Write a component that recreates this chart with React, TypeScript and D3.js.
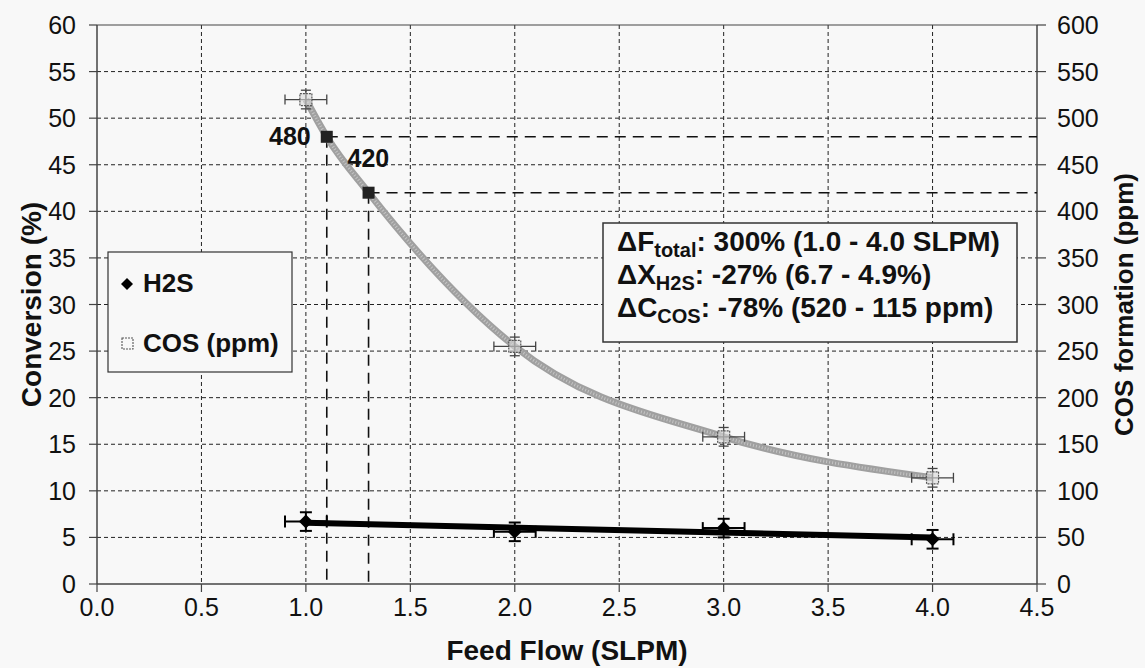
import React from 'react';
import * as d3 from 'd3';

const feedFlow = [1.0, 2.0, 3.0, 4.0];
const flowError = [0.1, 0.1, 0.1, 0.1];
const h2sConversion = [6.7, 5.6, 6.0, 4.8];
const h2sError = [1.0, 1.0, 1.0, 1.0];
const cosPpm = [520, 255, 158, 114];
const cosError = [10, 10, 10, 10];
const markFlow = [1.1, 1.3];
const markCos = [480, 420];
const markLabels = ['480', '420'];
const xTicks = [0, 0.5, 1, 1.5, 2, 2.5, 3, 3.5, 4, 4.5];
const yLeftTicks = [0, 5, 10, 15, 20, 25, 30, 35, 40, 45, 50, 55, 60];
const yRightTicks = [0, 50, 100, 150, 200, 250, 300, 350, 400, 450, 500, 550, 600];
const legendItems = ['H2S', 'COS (ppm)'];

const L = 97, R = 1037, T = 25, B = 584;
const FONT = 'Liberation Sans, Arial, sans-serif';

export default function App() {
  const x = d3.scaleLinear().domain([0, 4.5]).range([L, R]);
  const yL = d3.scaleLinear().domain([0, 60]).range([B, T]);
  const yR = d3.scaleLinear().domain([0, 600]).range([B, T]);

  // H2S linear trend
  const mx = d3.mean(feedFlow)!;
  const my = d3.mean(h2sConversion)!;
  const sxy = d3.sum(feedFlow.map((f, i) => (f - mx) * (h2sConversion[i] - my)));
  const sxx = d3.sum(feedFlow.map((f) => (f - mx) ** 2));
  const slope = sxy / sxx;
  const icpt = my - slope * mx;
  const x0 = feedFlow[0], x1 = feedFlow[feedFlow.length - 1];

  const cosCurvePts: [number, number][] = [
    ...feedFlow.map((f, i) => [f, cosPpm[i]] as [number, number]),
    ...markFlow.map((f, i) => [f, markCos[i]] as [number, number]),
  ].sort((a, b) => a[0] - b[0]);
  const cosLine = d3
    .line<[number, number]>()
    .x((d) => x(d[0]))
    .y((d) => yR(d[1]))
    .curve(d3.curveMonotoneX);

  const gridDash = '4,3';
  const diamond = (cx: number, cy: number, r: number) =>
    `M${cx},${cy - r}L${cx + r},${cy}L${cx},${cy + r}L${cx - r},${cy}Z`;

  return (
    <svg width={1145} height={668} style={{ position: 'absolute', left: 0, top: 0, background: '#f8f8f8' }} fontFamily={FONT}>
      <rect x={0} y={0} width={1145} height={668} fill="#f8f8f8" />
      {/* gridlines */}
      {yLeftTicks.filter((v) => v > 0 && v < 60).map((v) => (
        <line key={'gy' + v} x1={L} x2={R} y1={yL(v)} y2={yL(v)} stroke="#222" strokeWidth={1} strokeDasharray={gridDash} />
      ))}
      {xTicks.filter((v) => v > 0 && v < 4.5).map((v) => (
        <line key={'gx' + v} x1={x(v)} x2={x(v)} y1={T} y2={B} stroke="#222" strokeWidth={1} strokeDasharray={gridDash} />
      ))}
      {/* frame */}
      <line x1={L} x2={R} y1={T} y2={T} stroke="#444" strokeWidth={1.2} />
      <line x1={L} x2={L} y1={T} y2={B} stroke="#444" strokeWidth={1.5} />
      <line x1={R} x2={R} y1={T} y2={B} stroke="#444" strokeWidth={1.5} />
      <line x1={L} x2={R} y1={B} y2={B} stroke="#444" strokeWidth={1.5} />
      {/* left ticks */}
      {yLeftTicks.map((v) => (
        <g key={'yl' + v}>
          <line x1={L - 8} x2={L} y1={yL(v)} y2={yL(v)} stroke="#444" strokeWidth={1.2} />
          <text x={76} y={yL(v)} dy="0.36em" textAnchor="end" fontSize={25} fill="#111">{v}</text>
        </g>
      ))}
      {yRightTicks.map((v) => (
        <g key={'yr' + v}>
          <line x1={R} x2={R + 9} y1={yR(v)} y2={yR(v)} stroke="#444" strokeWidth={1.2} />
          <text x={1057} y={yR(v)} dy="0.36em" textAnchor="start" fontSize={25} fill="#111">{v}</text>
        </g>
      ))}
      {xTicks.map((v) => (
        <g key={'xt' + v}>
          <line x1={x(v)} x2={x(v)} y1={B} y2={B + 8} stroke="#444" strokeWidth={1.2} />
          <text x={x(v)} y={B + 32} textAnchor="middle" fontSize={25} fill="#111">{d3.format('.1f')(v)}</text>
        </g>
      ))}
      {/* axis titles */}
      <text x={567} y={660} textAnchor="middle" fontSize={28} fontWeight="bold" fill="#111">Feed Flow (SLPM)</text>
      <text transform={`translate(41,${(T + B) / 2}) rotate(-90)`} textAnchor="middle" fontSize={28} fontWeight="bold" fill="#111">Conversion (%)</text>
      <text transform={`translate(1133,${(T + B) / 2}) rotate(-90)`} textAnchor="middle" fontSize={26} fontWeight="bold" fill="#111">COS formation (ppm)</text>

      {/* dashed reference lines */}
      {markFlow.map((f, i) => (
        <g key={'ref' + i}>
          <line x1={x(f)} x2={x(f)} y1={yR(markCos[i])} y2={B} stroke="#111" strokeWidth={1.6} strokeDasharray="11,7" />
          <line x1={x(f)} x2={R} y1={yR(markCos[i])} y2={yR(markCos[i])} stroke="#111" strokeWidth={1.6} strokeDasharray="11,7" />
        </g>
      ))}

      {/* COS curve */}
      <path d={cosLine(cosCurvePts)!} fill="none" stroke="#a0a0a0" strokeWidth={7} />
      <path d={cosLine(cosCurvePts)!} fill="none" stroke="#c4c4c4" strokeWidth={3} strokeDasharray="1,2" />

      {/* mark squares */}
      {markFlow.map((f, i) => (
        <rect key={'ms' + i} x={x(f) - 6} y={yR(markCos[i]) - 6} width={12} height={12} fill="#222" />
      ))}
      {markFlow.map((f, i) => (
        <text key={'ml' + i} x={i === 0 ? x(f) - 16 : x(f) - 21} y={i === 0 ? yR(markCos[i]) + 8 : yR(markCos[i]) - 26}
          textAnchor={i === 0 ? 'end' : 'start'} fontSize={25} fontWeight="bold" fill="#111">{markLabels[i]}</text>
      ))}

      {/* COS error bars & markers */}
      {feedFlow.map((f, i) => {
        const cx = x(f), cy = yR(cosPpm[i]);
        const xl = x(f - flowError[i]), xr = x(f + flowError[i]);
        const yt = yR(cosPpm[i] + cosError[i]), yb = yR(cosPpm[i] - cosError[i]);
        return (
          <g key={'ce' + i} stroke="#444" strokeWidth={1.3}>
            <line x1={xl} x2={xr} y1={cy} y2={cy} />
            <line x1={xl} x2={xl} y1={cy - 5} y2={cy + 5} />
            <line x1={xr} x2={xr} y1={cy - 5} y2={cy + 5} />
            <line x1={cx} x2={cx} y1={yt} y2={yb} />
            <line x1={cx - 5} x2={cx + 5} y1={yt} y2={yt} />
            <line x1={cx - 5} x2={cx + 5} y1={yb} y2={yb} />
            <rect x={cx - 6} y={cy - 6} width={12} height={12} fill="#d8d8d8" fillOpacity={0.6} stroke="#555" strokeWidth={1.2} strokeDasharray="2,1" />
          </g>
        );
      })}

      {/* H2S trend line */}
      <line x1={x(x0)} x2={x(x1)} y1={yL(icpt + slope * x0)} y2={yL(icpt + slope * x1)} stroke="#000" strokeWidth={6} />
      {feedFlow.map((f, i) => {
        const cx = x(f), cy = yL(h2sConversion[i]);
        const xl = x(f - flowError[i]), xr = x(f + flowError[i]);
        const yt = yL(h2sConversion[i] + h2sError[i]), yb = yL(h2sConversion[i] - h2sError[i]);
        return (
          <g key={'he' + i} stroke="#000" strokeWidth={2}>
            <line x1={xl} x2={xr} y1={cy} y2={cy} />
            <line x1={xl} x2={xl} y1={cy - 6} y2={cy + 6} />
            <line x1={xr} x2={xr} y1={cy - 6} y2={cy + 6} />
            <line x1={cx} x2={cx} y1={yt} y2={yb} />
            <line x1={cx - 6} x2={cx + 6} y1={yt} y2={yt} />
            <line x1={cx - 6} x2={cx + 6} y1={yb} y2={yb} />
            <path d={diamond(cx, cy, 7)} fill="#000" stroke="none" />
          </g>
        );
      })}

      {/* legend */}
      <rect x={108} y={252} width={184} height={120} fill="#f8f8f8" stroke="#333" strokeWidth={1.2} />
      <path d={diamond(127, 284, 6)} fill="#000" />
      <text x={143} y={292} fontSize={26} fontWeight="bold" fill="#111">{legendItems[0]}</text>
      <rect x={122} y={338} width={11} height={11} fill="none" stroke="#555" strokeWidth={1.1} strokeDasharray="2,1" />
      <text x={143} y={352} fontSize={26} fontWeight="bold" fill="#111">{legendItems[1]}</text>

      {/* annotation box */}
      <rect x={603} y={223} width={414} height={119} fill="#f8f8f8" stroke="#333" strokeWidth={1.5} />
      <text x={617} y={251} fontSize={28} fontWeight="bold" fill="#111">
        ΔF<tspan fontSize={20} dy={6}>total</tspan><tspan dy={-6}>: 300% (1.0 - 4.0 SLPM)</tspan>
      </text>
      <text x={617} y={284} fontSize={28} fontWeight="bold" fill="#111">
        ΔX<tspan fontSize={20} dy={6}>H2S</tspan><tspan dy={-6}>: -27% (6.7 - 4.9%)</tspan>
      </text>
      <text x={617} y={317} fontSize={28} fontWeight="bold" fill="#111">
        ΔC<tspan fontSize={20} dy={6}>COS</tspan><tspan dy={-6}>: -78% (520 - 115 ppm)</tspan>
      </text>
    </svg>
  );
}
